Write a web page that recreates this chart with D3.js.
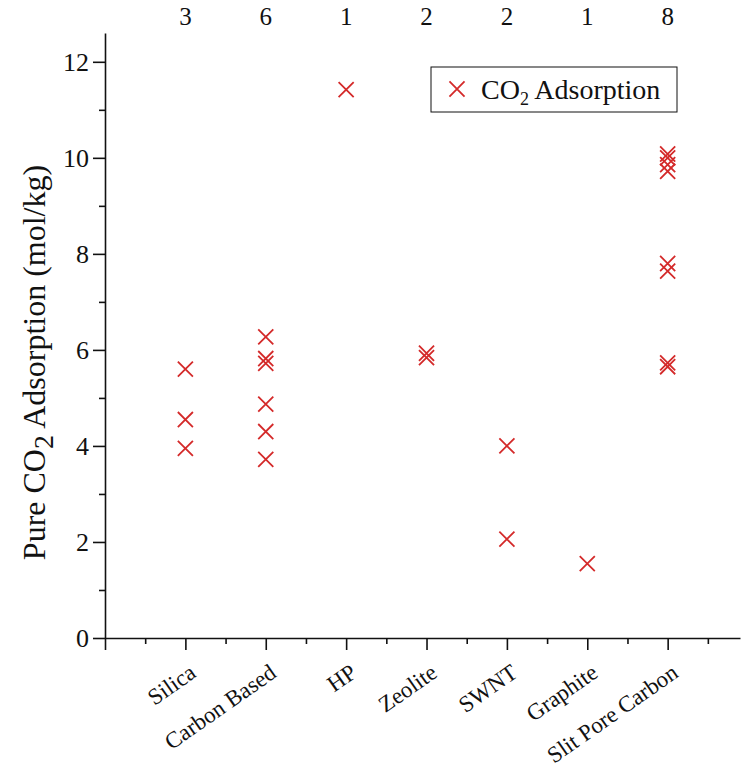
<!DOCTYPE html>
<html>
<head>
<meta charset="utf-8">
<script src="https://cdn.jsdelivr.net/npm/d3@7"></script>
<style>
  html, body { margin: 0; padding: 0; background: #fff; }
  svg { display: block; }
  text { font-family: "Liberation Serif", "Times New Roman", serif; fill: #111; }
</style>
</head>
<body>
<div id="chart"></div>
<script>
const categories = ["Silica", "Carbon Based", "HP", "Zeolite", "SWNT", "Graphite", "Slit Pore Carbon"];
const counts = [3, 6, 1, 2, 2, 1, 8];
const silica = [5.6, 4.55, 3.95];
const carbonBased = [6.27, 5.82, 5.72, 4.87, 4.3, 3.72];
const hp = [11.42];
const zeolite = [5.93, 5.84];
const swnt = [4.0, 2.06];
const graphite = [1.55];
const slitPoreCarbon = [10.08, 10.0, 9.86, 9.72, 7.8, 7.64, 5.73, 5.65];
const yTicks = [0, 2, 4, 6, 8, 10, 12];

const groups = [silica, carbonBased, hp, zeolite, swnt, graphite, slitPoreCarbon];
const points = [];
groups.forEach((vals, i) => vals.forEach(v => points.push({ x: i + 1, y: v })));

const W = 742, H = 769;
const svg = d3.select("#chart").append("svg").attr("width", W).attr("height", H);

const x = d3.scaleLinear().domain([0, 7.9]).range([105, 740]);
const y = d3.scaleLinear().domain([0, 12.6]).range([638, 33]);

const red = "#d42a2a";

// Y axis
const yAxis = d3.axisLeft(y).tickValues(yTicks).tickSize(12).tickSizeOuter(0).tickPadding(4).tickFormat(d3.format("d"));
const yg = svg.append("g").attr("transform", `translate(${x(0)},0)`).call(yAxis);
yg.selectAll("text").style("font-size", "26px");
const yMinor = d3.axisLeft(y).tickValues(d3.range(1, 12, 2)).tickSize(6).tickSizeOuter(0).tickFormat("");
svg.append("g").attr("transform", `translate(${x(0)},0)`).call(yMinor).select(".domain").remove();

// X axis
const xAxis = d3.axisBottom(x).tickValues(d3.range(0, 8, 1)).tickSize(12).tickSizeOuter(0).tickFormat("");
svg.append("g").attr("transform", `translate(0,${y(0)})`).call(xAxis);
const xMinor = d3.axisBottom(x).tickValues(d3.range(0.5, 8, 1)).tickSize(6).tickSizeOuter(0).tickFormat("");
svg.append("g").attr("transform", `translate(0,${y(0)})`).call(xMinor).select(".domain").remove();

svg.selectAll(".domain, .tick line").attr("stroke", "#111").attr("stroke-width", 1.6);

// Category labels (rotated)
svg.append("g").selectAll("text").data(categories).join("text")
  .attr("transform", (d, i) => `translate(${x(i + 1) + 12},${y(0) + 38}) rotate(-35)`)
  .attr("text-anchor", "end")
  .style("font-size", "23px")
  .text(d => d);

// Count labels on top
svg.append("g").selectAll("text").data(counts).join("text")
  .attr("x", (d, i) => x(i + 1))
  .attr("y", 25)
  .attr("text-anchor", "middle")
  .style("font-size", "25px")
  .text(d => d);

// Y title
const yt = svg.append("text")
  .attr("transform", `translate(45,${(y(0) + y(12.6)) / 2 + 27}) rotate(-90)`)
  .attr("text-anchor", "middle")
  .style("font-size", "32px");
yt.append("tspan").text("Pure CO");
yt.append("tspan").attr("dy", 8).style("font-size", "28px").text("2");
yt.append("tspan").attr("dy", -8).text(" Adsorption (mol/kg)");

// Markers
const cross = d3.symbol().type(d3.symbolX).size(150);
svg.append("g").selectAll("path").data(points).join("path")
  .attr("d", cross)
  .attr("transform", d => `translate(${x(d.x)},${y(d.y)})`)
  .attr("fill", "none")
  .attr("stroke", red)
  .attr("stroke-width", 1.8);

// Legend
const lg = svg.append("g");
lg.append("rect").attr("x", 431).attr("y", 67).attr("width", 246).attr("height", 45)
  .attr("fill", "#fff").attr("stroke", "#111").attr("stroke-width", 1);
lg.append("path").attr("d", cross).attr("transform", "translate(457,89)")
  .attr("fill", "none").attr("stroke", red).attr("stroke-width", 1.8);
const lt = lg.append("text").attr("x", 481).attr("y", 99).style("font-size", "28px");
lt.append("tspan").text("CO");
lt.append("tspan").attr("dy", 6).style("font-size", "18px").text("2");
lt.append("tspan").attr("dy", -6).text(" Adsorption");
</script>
</body>
</html>
